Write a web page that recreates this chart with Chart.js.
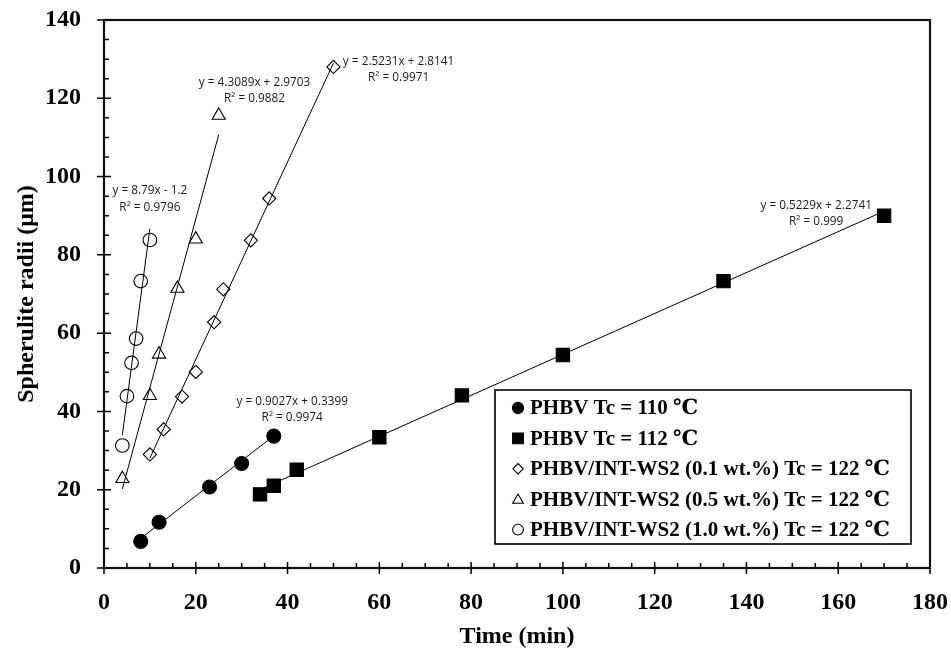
<!DOCTYPE html>
<html>
<head>
<meta charset="utf-8">
<script src="https://cdn.jsdelivr.net/npm/chart.js@4.4.0/dist/chart.umd.min.js"></script>
<style>
  html, body { margin: 0; padding: 0; background: #fff; }
  canvas { display: block; }
</style>
</head>
<body>
<canvas id="chart" width="951" height="653"></canvas>
<script>
// ---- data -------------------------------------------------------------
const seriesNames = [
  'PHBV Tc = 110 \u2103',
  'PHBV Tc = 112 \u2103',
  'PHBV/INT-WS2 (0.1 wt.%) Tc = 122 \u2103',
  'PHBV/INT-WS2 (0.5 wt.%) Tc = 122 \u2103',
  'PHBV/INT-WS2 (1.0 wt.%) Tc = 122 \u2103'
];

// time (min) and spherulite radius (µm) for each sample
const time110 = [8, 12, 23, 30, 37];
const radii110 = [6.8, 11.7, 20.7, 26.7, 33.7];

const time112 = [34, 37, 42, 60, 78, 100, 135, 170];
const radii112 = [18.8, 21.0, 25.1, 33.4, 44.1, 54.4, 73.3, 90.0];

const timeWS01 = [10, 13, 17, 20, 24, 26, 32, 36, 50];
const radiiWS01 = [29.0, 35.4, 43.8, 50.1, 62.8, 71.2, 83.7, 94.4, 128.0];

const timeWS05 = [4, 10, 12, 16, 20, 25];
const radiiWS05 = [22.8, 44.0, 54.6, 71.4, 84.0, 115.6];

const timeWS10 = [4, 5, 6, 7, 8, 10];
const radiiWS10 = [31.3, 43.9, 52.4, 58.6, 73.3, 83.8];

// linear fits: y = slope * x + intercept, with R²
const fitSlopes = [0.9027, 0.5229, 2.5231, 4.3089, 8.79];
const fitIntercepts = [0.3399, 2.2741, 2.8141, 2.9703, -1.2];
const fitR2 = [0.9974, 0.999, 0.9971, 0.9882, 0.9796];

// axis ticks
const xTicks = [0, 20, 40, 60, 80, 100, 120, 140, 160, 180];
const yTicks = [0, 20, 40, 60, 80, 100, 120, 140];
const minorStep = 5;

// ---- helpers ----------------------------------------------------------
const SERIF = '"Liberation Serif", "Times New Roman", "DejaVu Serif", serif';
const SANS = '"Open Sans", "Liberation Sans", sans-serif';

const sampleTimes = [time110, time112, timeWS01, timeWS05, timeWS10];
const sampleRadii = [radii110, radii112, radiiWS01, radiiWS05, radiiWS10];

function toPoints(xs, ys) { return xs.map((x, i) => ({ x, y: ys[i] })); }

function fitLine(i) {
  const xs = sampleTimes[i];
  const x0 = Math.min(...xs), x1 = Math.max(...xs);
  return [x0, x1].map(x => ({ x, y: fitSlopes[i] * x + fitIntercepts[i] }));
}

function eqText(i) {
  const b = fitIntercepts[i];
  return 'y = ' + fitSlopes[i] + 'x ' + (b < 0 ? '- ' : '+ ') + Math.abs(b);
}

const markerStyles = [
  { pointStyle: 'circle',  radius: 7,   legendRadius: 5.6, fill: '#000' },
  { pointStyle: 'rect',    radius: 9.4, legendRadius: 7.6, fill: '#000' },
  { pointStyle: 'rectRot', radius: 6.6, legendRadius: 5.2, fill: 'rgba(0,0,0,0)' },
  { pointStyle: 'triangle',radius: 7.6, legendRadius: 6.2, fill: 'rgba(0,0,0,0)' },
  { pointStyle: 'circle',  radius: 6.8, legendRadius: 5.4, fill: 'rgba(0,0,0,0)' }
];

const datasets = [];
for (let i = 0; i < seriesNames.length; i++) {
  datasets.push({
    label: seriesNames[i],
    data: toPoints(sampleTimes[i], sampleRadii[i]),
    showLine: false,
    pointStyle: markerStyles[i].pointStyle,
    pointRadius: markerStyles[i].radius,
    pointHoverRadius: markerStyles[i].radius,
    pointBackgroundColor: markerStyles[i].fill,
    pointBorderColor: '#000',
    pointBorderWidth: 1.1,
    order: 2
  });
}
for (let i = 0; i < seriesNames.length; i++) {
  datasets.push({
    label: 'fit-' + i,
    data: fitLine(i),
    showLine: true,
    borderColor: '#000',
    borderWidth: 1,
    pointRadius: 0,
    pointHoverRadius: 0,
    fill: false,
    order: 1
  });
}

// ---- plugins ----------------------------------------------------------
// frame around the plot area plus major/minor tick marks
const framePlugin = {
  id: 'frame',
  afterDatasetsDraw(chart) {
    const { ctx, chartArea: a, scales: { x, y } } = chart;
    ctx.save();
    ctx.strokeStyle = '#000';
    ctx.lineWidth = 1.5;
    ctx.beginPath();
    for (let v = xTicks[0]; v <= xTicks[xTicks.length - 1]; v += minorStep) {
      const px = x.getPixelForValue(v);
      const major = xTicks.includes(v);
      ctx.moveTo(px, a.bottom - (major ? 6 : 5));
      ctx.lineTo(px, a.bottom + (major ? 6 : 0));
    }
    for (let v = yTicks[0]; v <= yTicks[yTicks.length - 1]; v += minorStep) {
      const py = y.getPixelForValue(v);
      const major = yTicks.includes(v);
      ctx.moveTo(a.left - (major ? 7 : 0), py);
      ctx.lineTo(a.left + (major ? 7 : 5), py);
    }
    ctx.stroke();
    ctx.lineWidth = 2.2;
    ctx.strokeStyle = '#111';
    ctx.strokeRect(a.left, a.top, a.right - a.left, a.bottom - a.top);
    ctx.restore();
  }
};

// trendline equations, anchored in data coordinates
const fitLabelPlugin = {
  id: 'fitLabels',
  afterDatasetsDraw(chart, args, opts) {
    const { ctx, scales: { x, y } } = chart;
    ctx.save();
    ctx.fillStyle = '#1a1a1a';
    ctx.font = opts.font;
    ctx.textAlign = 'center';
    ctx.textBaseline = 'middle';
    opts.anchors.forEach((p, i) => {
      const px = x.getPixelForValue(p[0]);
      const py = y.getPixelForValue(p[1]);
      ctx.fillText(eqText(i), px, py);
      ctx.fillText('R\u00B2 = ' + fitR2[i], px, py + opts.lineGap);
    });
    ctx.restore();
  }
};

// boxed legend inside the plot
const boxLegendPlugin = {
  id: 'boxLegend',
  afterDraw(chart, args, opts) {
    const { ctx } = chart;
    const b = opts.box;
    ctx.save();
    ctx.fillStyle = '#fff';
    ctx.fillRect(b.x, b.y, b.w, b.h);
    ctx.strokeStyle = '#000';
    ctx.lineWidth = 1.6;
    ctx.strokeRect(b.x, b.y, b.w, b.h);
    ctx.font = opts.font;
    ctx.textAlign = 'left';
    ctx.textBaseline = 'middle';
    seriesNames.forEach((name, i) => {
      const cy = b.y + opts.firstRow + i * opts.rowGap;
      const ms = markerStyles[i];
      ctx.fillStyle = ms.fill;
      ctx.strokeStyle = '#000';
      ctx.lineWidth = 1.1;
      Chart.helpers.drawPoint(ctx, {
        pointStyle: ms.pointStyle, radius: ms.legendRadius, rotation: 0, borderWidth: 1.1
      }, b.x + opts.markerX, cy + (ms.pointStyle === 'triangle' ? 1 : 0));
      ctx.fillStyle = '#000';
      ctx.fillText(name, b.x + opts.textX, cy + 1);
    });
    ctx.restore();
  }
};

// ---- chart ------------------------------------------------------------
new Chart(document.getElementById('chart'), {
  type: 'scatter',
  data: { datasets },
  plugins: [framePlugin, fitLabelPlugin, boxLegendPlugin],
  options: {
    responsive: false,
    animation: false,
    events: [],
    layout: { padding: { top: 20, right: 21, left: 0, bottom: 0 } },
    plugins: {
      legend: { display: false },
      tooltip: { enabled: false },
      fitLabels: {
        font: '11.8px ' + SANS,
        lineGap: 16.5,
        anchors: [[41.0, 42.6], [155.2, 92.7], [64.2, 129.4], [32.8, 124.1], [10.0, 96.4]]
      },
      boxLegend: {
        box: { x: 495, y: 390, w: 416, h: 154 },
        font: 'bold 21px ' + SERIF,
        firstRow: 18, rowGap: 30.4, markerX: 23, textX: 35
      }
    },
    scales: {
      x: {
        type: 'linear', min: 0, max: 180,
        afterFit(s) { s.height = 85; s.paddingLeft = 0; s.paddingRight = 0; },
        afterBuildTicks(s) { s.ticks = xTicks.map(v => ({ value: v })); },
        grid: { display: false, drawTicks: false },
        border: { display: false },
        ticks: { color: '#000', padding: 20, maxRotation: 0, font: { family: SERIF, size: 24, weight: 'bold' } },
        title: { display: true, text: 'Time (min)', color: '#000', padding: { top: 0, bottom: 2 },
                 font: { family: SERIF, size: 24, weight: 'bold' } }
      },
      y: {
        type: 'linear', min: 0, max: 140,
        afterFit(s) { s.width = 104; s.paddingTop = 0; s.paddingBottom = 0; },
        afterBuildTicks(s) { s.ticks = yTicks.map(v => ({ value: v })); },
        grid: { display: false, drawTicks: false },
        border: { display: false },
        ticks: { color: '#000', padding: 23, font: { family: SERIF, size: 24, weight: 'bold' } },
        title: { display: true, text: 'Spherulite radii (\u03BCm)', color: '#000', padding: { top: 12, bottom: 0 },
                 font: { family: SERIF, size: 24, weight: 'bold' } }
      }
    }
  }
});
</script>
</body>
</html>
